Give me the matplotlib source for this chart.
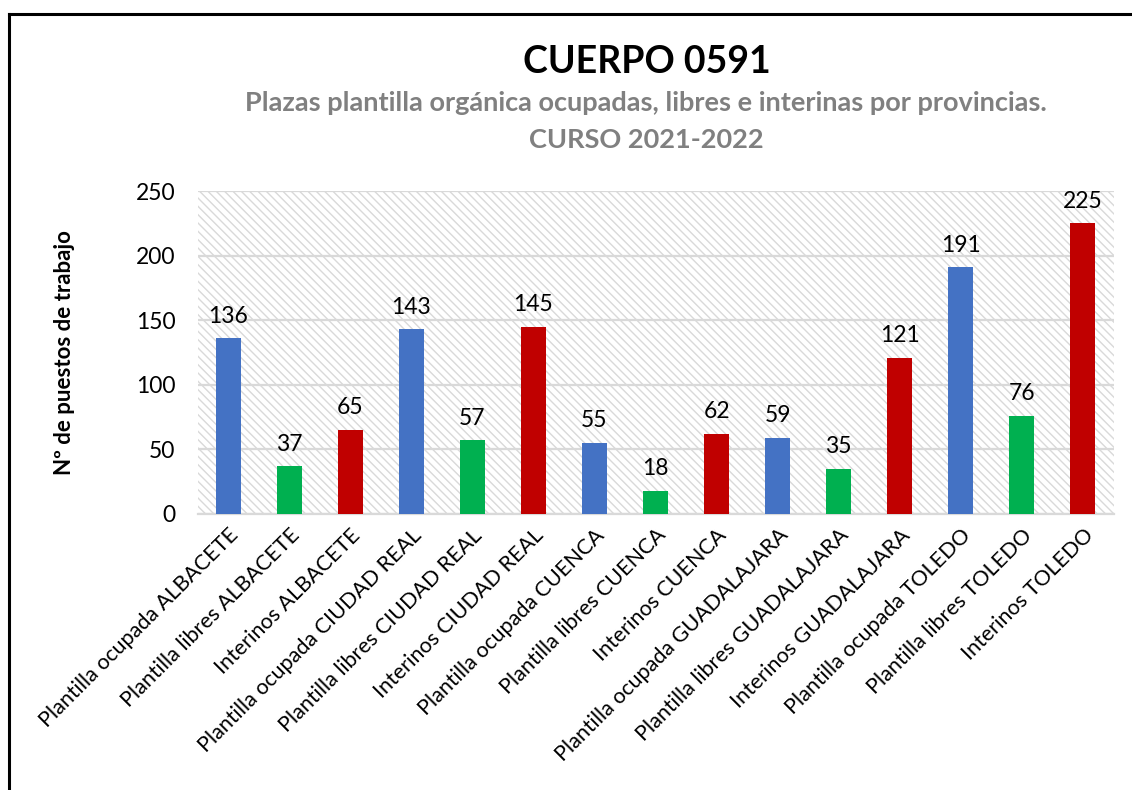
import matplotlib
matplotlib.use("Agg")
import matplotlib.pyplot as plt
from matplotlib.patches import Rectangle
from matplotlib.lines import Line2D

categorias = [
    "Plantilla ocupada ALBACETE", "Plantilla libres ALBACETE", "Interinos ALBACETE",
    "Plantilla ocupada CIUDAD REAL", "Plantilla libres CIUDAD REAL", "Interinos CIUDAD REAL",
    "Plantilla ocupada CUENCA", "Plantilla libres CUENCA", "Interinos CUENCA",
    "Plantilla ocupada GUADALAJARA", "Plantilla libres GUADALAJARA", "Interinos GUADALAJARA",
    "Plantilla ocupada TOLEDO", "Plantilla libres TOLEDO", "Interinos TOLEDO",
]
valores = [136, 37, 65, 143, 57, 145, 55, 18, 62, 59, 35, 121, 191, 76, 225]
colores = ["#4472C4", "#00B050", "#C00000"] * 5

plt.rcParams['font.family'] = ['Lato', 'DejaVu Sans']

fig = plt.figure(figsize=(11.32, 7.90), dpi=100)
ax = fig.add_axes([197.5/1132, 1-514/790, 916/1132, 323/790])

x = list(range(len(valores)))
ax.set_xlim(-0.5, len(valores) - 0.5)
ax.set_ylim(0, 250)

# fondo rayado
ax.add_patch(Rectangle((-0.5, 0), len(valores), 250, facecolor='white',
                       edgecolor='#d9d9d9', hatch='\\\\\\\\', linewidth=0, zorder=0))
ax.set_yticks(range(0, 251, 50))
ax.grid(axis='y', color='#d9d9d9', linewidth=1.6, zorder=1)
ax.set_axisbelow(True)

bars = ax.bar(x, valores, width=0.41, color=colores, zorder=3)
for b, v in zip(bars, valores):
    ax.text(b.get_x() + b.get_width()/2, v + 9, str(v), ha='center', va='bottom',
            fontsize=16.5, zorder=4)

for s in ax.spines.values():
    s.set_visible(False)
ax.spines['bottom'].set_visible(True)
ax.spines['bottom'].set_color('#d9d9d9')
ax.spines['bottom'].set_linewidth(1.6)
ax.tick_params(axis='both', length=0)
ax.tick_params(axis='y', pad=16, labelsize=16.5)
ax.set_xticks(x)
ax.set_xticklabels(categorias, rotation=45, ha='right', rotation_mode='anchor', fontsize=15.5)
ax.tick_params(axis='x', pad=8)

ax.set_ylabel('Nº de puestos de trabajo', fontsize=16, fontweight='bold', labelpad=44)

fig.text(647/1132, 1-62/790, 'CUERPO 0591', ha='center', va='center',
         fontsize=27, fontweight='bold')
fig.text(646/1132, 1-103/790, 'Plazas plantilla orgánica ocupadas, libres e interinas por provincias.',
         ha='center', va='center', fontsize=19.5, fontweight='bold', color='#808080')
fig.text(646/1132, 1-140/790, 'CURSO 2021-2022', ha='center', va='center',
         fontsize=19.5, fontweight='bold', color='#808080')

# marco
fig.add_artist(Line2D([9/1132, 1], [1-14/790, 1-14/790], color='black', linewidth=2.2))
fig.add_artist(Line2D([9/1132, 9/1132], [0, 1-14/790], color='black', linewidth=2.2))

fig.savefig('out.png', dpi=100)
